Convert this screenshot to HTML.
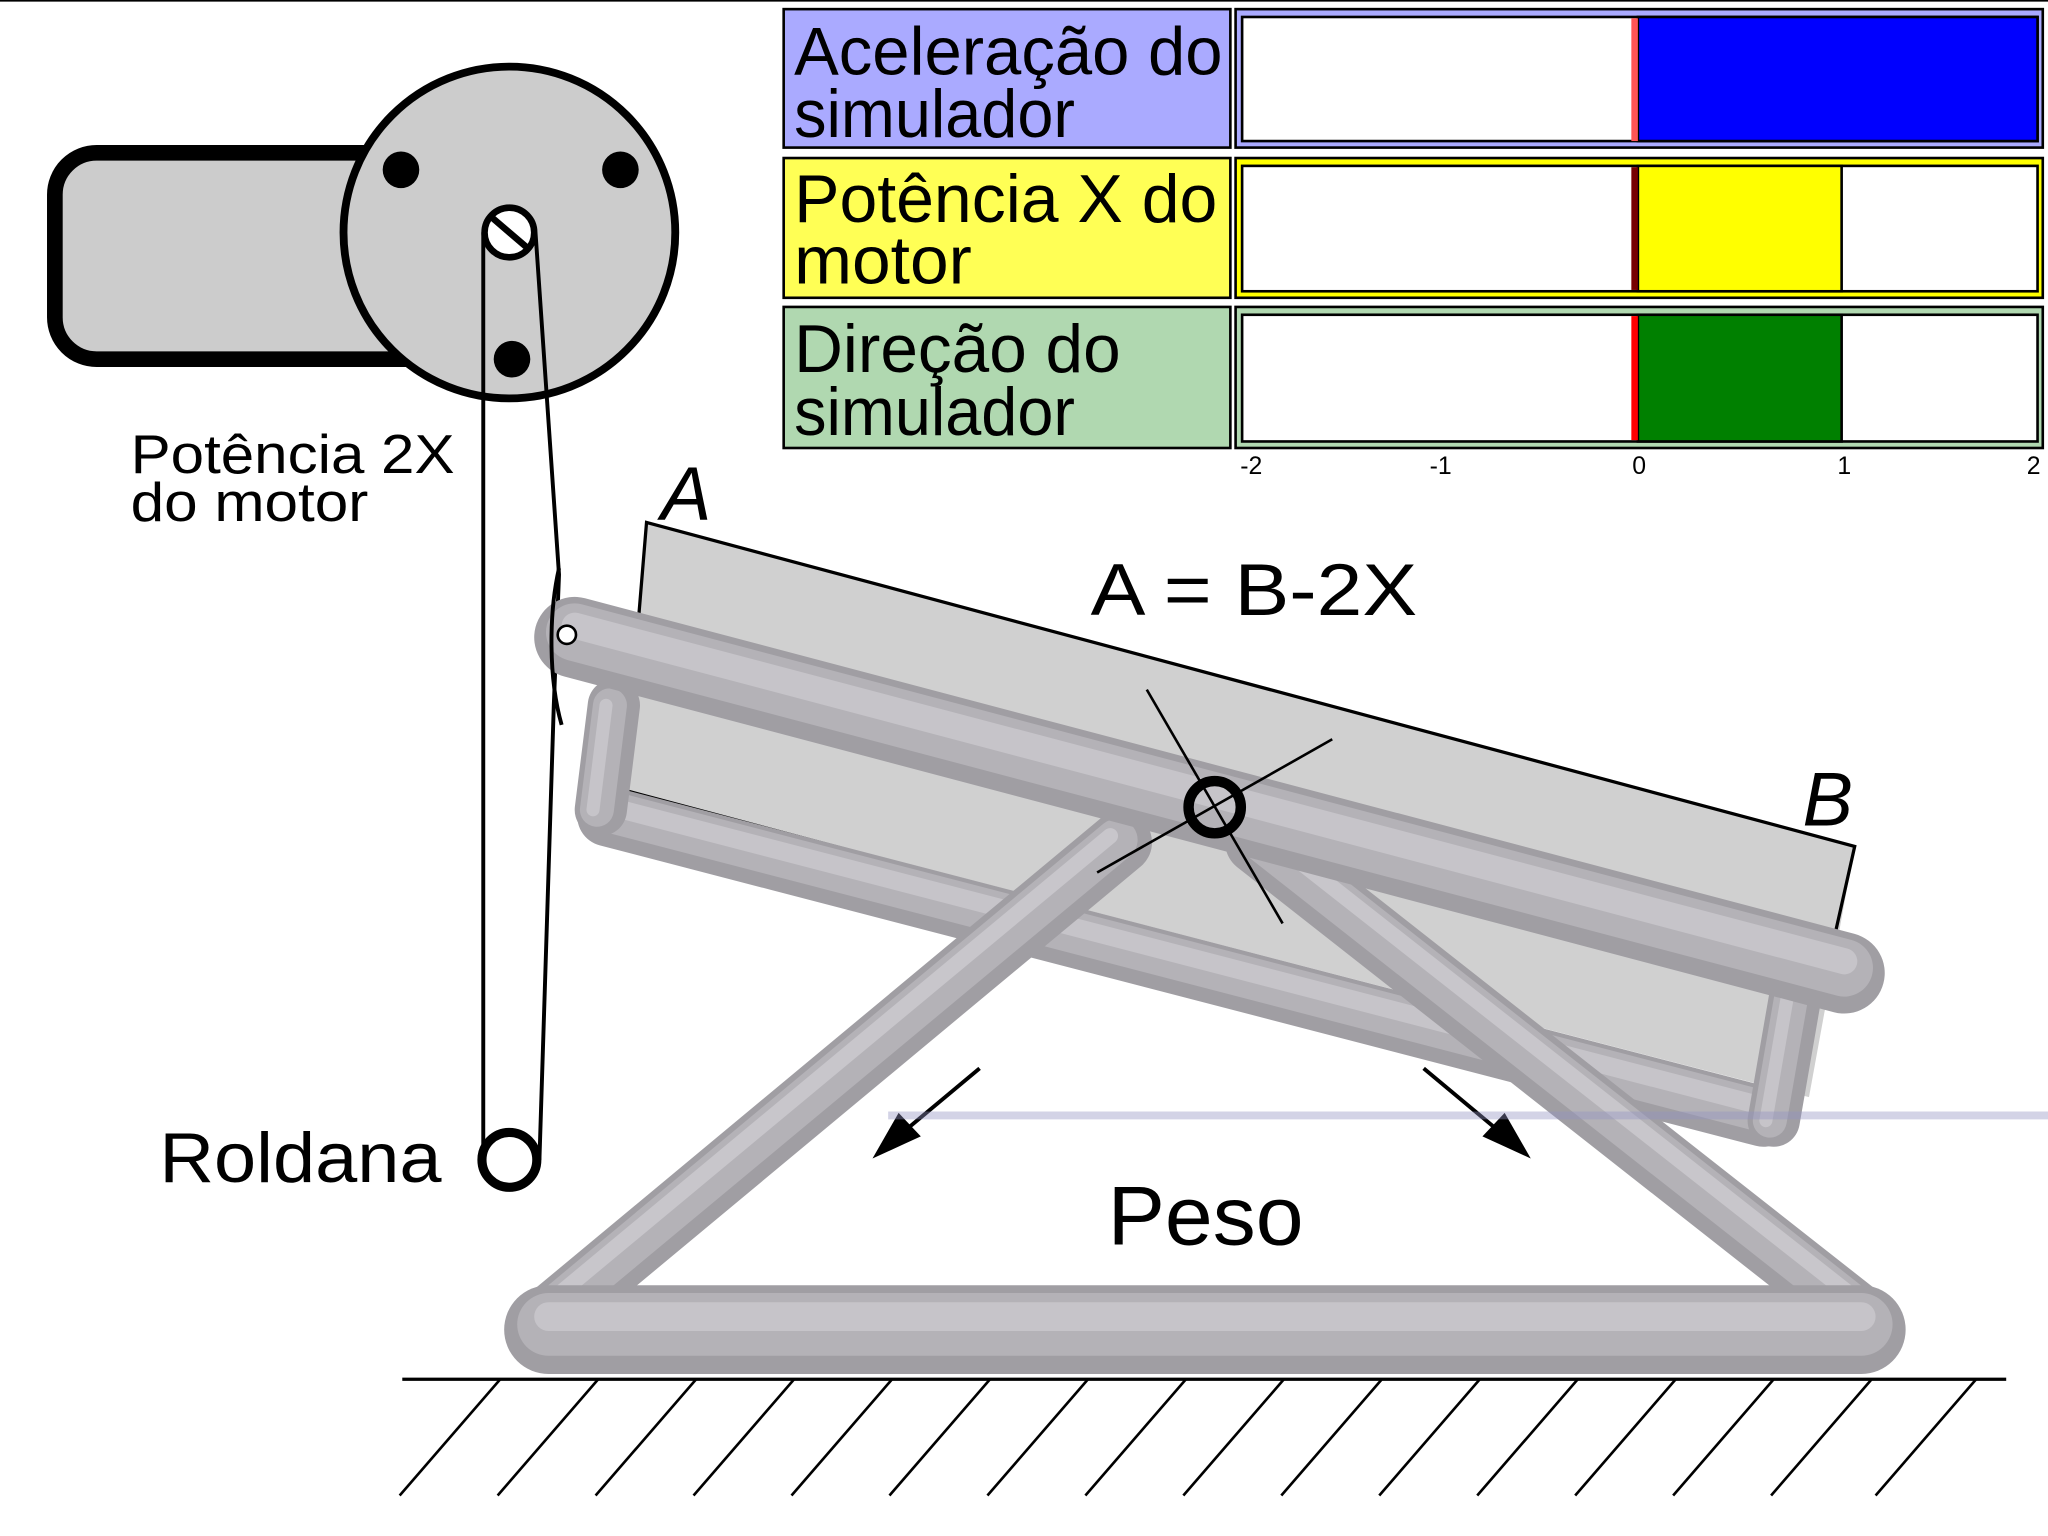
<!DOCTYPE html>
<html><head><meta charset="utf-8"><style>html,body{margin:0;padding:0;background:#fff}svg{display:block}</style></head><body>
<svg width="2048" height="1536" viewBox="0 0 1568 1176" preserveAspectRatio="none" xmlns="http://www.w3.org/2000/svg" font-family="Liberation Sans, sans-serif">
<line x1="0" y1="0.5" x2="1568" y2="0.5" stroke="#000" stroke-width="1.5"/>
<!-- motor -->
<rect x="42" y="117" width="300" height="158" rx="32" fill="#ccc" stroke="#000" stroke-width="12"/>
<circle cx="390" cy="178" r="127" fill="#ccc" stroke="#000" stroke-width="6"/>
<circle cx="307" cy="130" r="14"/><circle cx="475" cy="130" r="14"/><circle cx="392" cy="275" r="14"/>
<circle cx="390" cy="178" r="19" fill="#fff" stroke="#000" stroke-width="5"/>
<line x1="376" y1="166" x2="404" y2="190" stroke="#000" stroke-width="5"/>
<line x1="370" y1="178" x2="370" y2="888" stroke="#000" stroke-width="3"/>
<polyline points="410,178 428,440 424,540 413,888" fill="none" stroke="#000" stroke-width="3"/>
<circle cx="390" cy="888" r="21" fill="#fff" stroke="#000" stroke-width="7"/>
<text x="100" y="362" font-size="42" textLength="248" lengthAdjust="spacingAndGlyphs">Potência 2X</text>
<text x="100" y="399" font-size="42" textLength="182" lengthAdjust="spacingAndGlyphs">do motor</text>
<text x="122" y="905" font-size="54" textLength="216" lengthAdjust="spacingAndGlyphs">Roldana</text>
<!-- panels -->
<g stroke="#000" stroke-width="2">
<rect x="600" y="7" width="342" height="106" fill="#aaf"/>
<rect x="946" y="7" width="618" height="106" fill="#aaf"/>
<rect x="951" y="13" width="609" height="95" fill="#fff"/>
<rect x="1254" y="13" width="306" height="95" fill="#00f"/>
<rect x="600" y="121" width="342" height="107" fill="#ff5"/>
<rect x="946" y="121" width="618" height="107" fill="#ff0"/>
<rect x="951" y="127" width="609" height="96" fill="#fff"/>
<rect x="1254" y="127" width="156" height="96" fill="#ff0"/>
<rect x="600" y="235" width="342" height="108" fill="#b0d8b0"/>
<rect x="946" y="235" width="618" height="108" fill="#b0d8b0"/>
<rect x="951" y="241" width="609" height="97" fill="#fff"/>
<rect x="1254" y="241" width="156" height="97" fill="#008000"/>
</g>
<rect x="1249" y="14" width="5" height="94" fill="#f55"/>
<rect x="1249" y="128" width="5" height="94" fill="#700"/>
<rect x="1249" y="242" width="5" height="95" fill="#f00"/>
<g font-size="52">
<text x="608" y="57" textLength="328" lengthAdjust="spacingAndGlyphs">Aceleração do</text>
<text x="608" y="105" textLength="215" lengthAdjust="spacingAndGlyphs">simulador</text>
<text x="608" y="170" textLength="324" lengthAdjust="spacingAndGlyphs">Potência X do</text>
<text x="608" y="217" textLength="136" lengthAdjust="spacingAndGlyphs">motor</text>
<text x="608" y="285" textLength="250" lengthAdjust="spacingAndGlyphs">Direção do</text>
<text x="608" y="333" textLength="215" lengthAdjust="spacingAndGlyphs">simulador</text>
</g>
<g font-size="19" text-anchor="middle"><text x="958" y="363">-2</text><text x="1103" y="363">-1</text><text x="1255" y="363">0</text><text x="1412" y="363">1</text><text x="1557" y="363">2</text></g>
<!-- platform panel -->
<polygon points="495,400 1420,648 1385,840 478,605" fill="#d0d0d0"/>
<polyline points="478,605 495,400 1420,648 1405,715" fill="none" stroke="#000" stroke-width="2.5"/>
<line x1="478" y1="605" x2="1340" y2="835" stroke="#000" stroke-width="2.5"/>
<g stroke-linecap="round" fill="none">
<g><line x1="465" y1="625" x2="1350" y2="855" stroke="#a09ea3" stroke-width="46"/><line x1="465" y1="621" x2="1350" y2="851" stroke="#b4b2b7" stroke-width="32"/><line x1="465" y1="617" x2="1350" y2="847" stroke="#c6c4c9" stroke-width="14"/></g>
<g><line x1="470" y1="540" x2="460" y2="620" stroke="#a09ea3" stroke-width="40"/><line x1="467" y1="540" x2="457" y2="620" stroke="#b4b2b7" stroke-width="26"/><line x1="464" y1="540" x2="454" y2="620" stroke="#c6c4c9" stroke-width="10"/></g>
<g><line x1="1375" y1="760" x2="1358" y2="858" stroke="#a09ea3" stroke-width="40"/><line x1="1372" y1="760" x2="1355" y2="858" stroke="#b4b2b7" stroke-width="26"/><line x1="1369" y1="760" x2="1352" y2="858" stroke="#c6c4c9" stroke-width="10"/></g>
<g><line x1="858" y1="645" x2="425" y2="1005" stroke="#a09ea3" stroke-width="48"/><line x1="855" y1="643" x2="422" y2="1003" stroke="#b4b2b7" stroke-width="32"/><line x1="850" y1="640" x2="417" y2="1000" stroke="#c8c6cb" stroke-width="12"/></g>
<g><line x1="962" y1="645" x2="1420" y2="1005" stroke="#a09ea3" stroke-width="48"/><line x1="965" y1="643" x2="1423" y2="1003" stroke="#b4b2b7" stroke-width="32"/><line x1="970" y1="640" x2="1428" y2="1000" stroke="#c8c6cb" stroke-width="12"/></g>
<g><line x1="440" y1="488" x2="1412" y2="745" stroke="#a09ea3" stroke-width="62"/><line x1="440" y1="484" x2="1412" y2="741" stroke="#b4b2b7" stroke-width="44"/><line x1="440" y1="479" x2="1412" y2="736" stroke="#c6c4c9" stroke-width="20"/></g>
<g><line x1="420" y1="1018" x2="1425" y2="1018" stroke="#a09ea3" stroke-width="68"/><line x1="420" y1="1014" x2="1425" y2="1014" stroke="#b4b2b7" stroke-width="48"/><line x1="420" y1="1008" x2="1425" y2="1008" stroke="#c6c4c9" stroke-width="22"/></g>
</g>
<!-- pivot -->
<line x1="878" y1="528" x2="982" y2="707" stroke="#000" stroke-width="2"/>
<line x1="840" y1="668" x2="1020" y2="566" stroke="#000" stroke-width="2"/>
<circle cx="930" cy="618" r="20" fill="none" stroke="#000" stroke-width="8"/>
<path d="M428,435 C420,470 420,520 430,555" fill="none" stroke="#000" stroke-width="3"/>
<circle cx="434" cy="486" r="7" fill="#fff" stroke="#000" stroke-width="2"/>
<text x="506" y="398" font-size="58" font-style="italic">A</text>
<text x="1380" y="632" font-size="58" font-style="italic">B</text>
<text x="835" y="471" font-size="56" textLength="250" lengthAdjust="spacingAndGlyphs">A = B-2X</text>
<text x="848" y="953" font-size="64" textLength="150" lengthAdjust="spacingAndGlyphs">Peso</text>
<line x1="750" y1="818" x2="690" y2="868" stroke="#000" stroke-width="3"/>
<polygon points="668,887 688,852 705,870" fill="#000"/>
<line x1="1090" y1="818" x2="1150" y2="868" stroke="#000" stroke-width="3"/>
<polygon points="1172,887 1135,870 1152,852" fill="#000"/>
<line x1="680" y1="854" x2="1568" y2="854" stroke="#9090c0" stroke-opacity="0.4" stroke-width="6"/>
<line x1="308" y1="1056" x2="1536" y2="1056" stroke="#000" stroke-width="2.5"/>
<g stroke="#000" stroke-width="2">
<line x1="383" y1="1056" x2="306" y2="1145"/><line x1="458" y1="1056" x2="381" y2="1145"/><line x1="533" y1="1056" x2="456" y2="1145"/><line x1="608" y1="1056" x2="531" y2="1145"/><line x1="683" y1="1056" x2="606" y2="1145"/><line x1="758" y1="1056" x2="681" y2="1145"/><line x1="833" y1="1056" x2="756" y2="1145"/><line x1="908" y1="1056" x2="831" y2="1145"/><line x1="983" y1="1056" x2="906" y2="1145"/><line x1="1058" y1="1056" x2="981" y2="1145"/><line x1="1133" y1="1056" x2="1056" y2="1145"/><line x1="1208" y1="1056" x2="1131" y2="1145"/><line x1="1283" y1="1056" x2="1206" y2="1145"/><line x1="1358" y1="1056" x2="1281" y2="1145"/><line x1="1433" y1="1056" x2="1356" y2="1145"/><line x1="1513" y1="1056" x2="1436" y2="1145"/>
</g>
</svg>
</body></html>
